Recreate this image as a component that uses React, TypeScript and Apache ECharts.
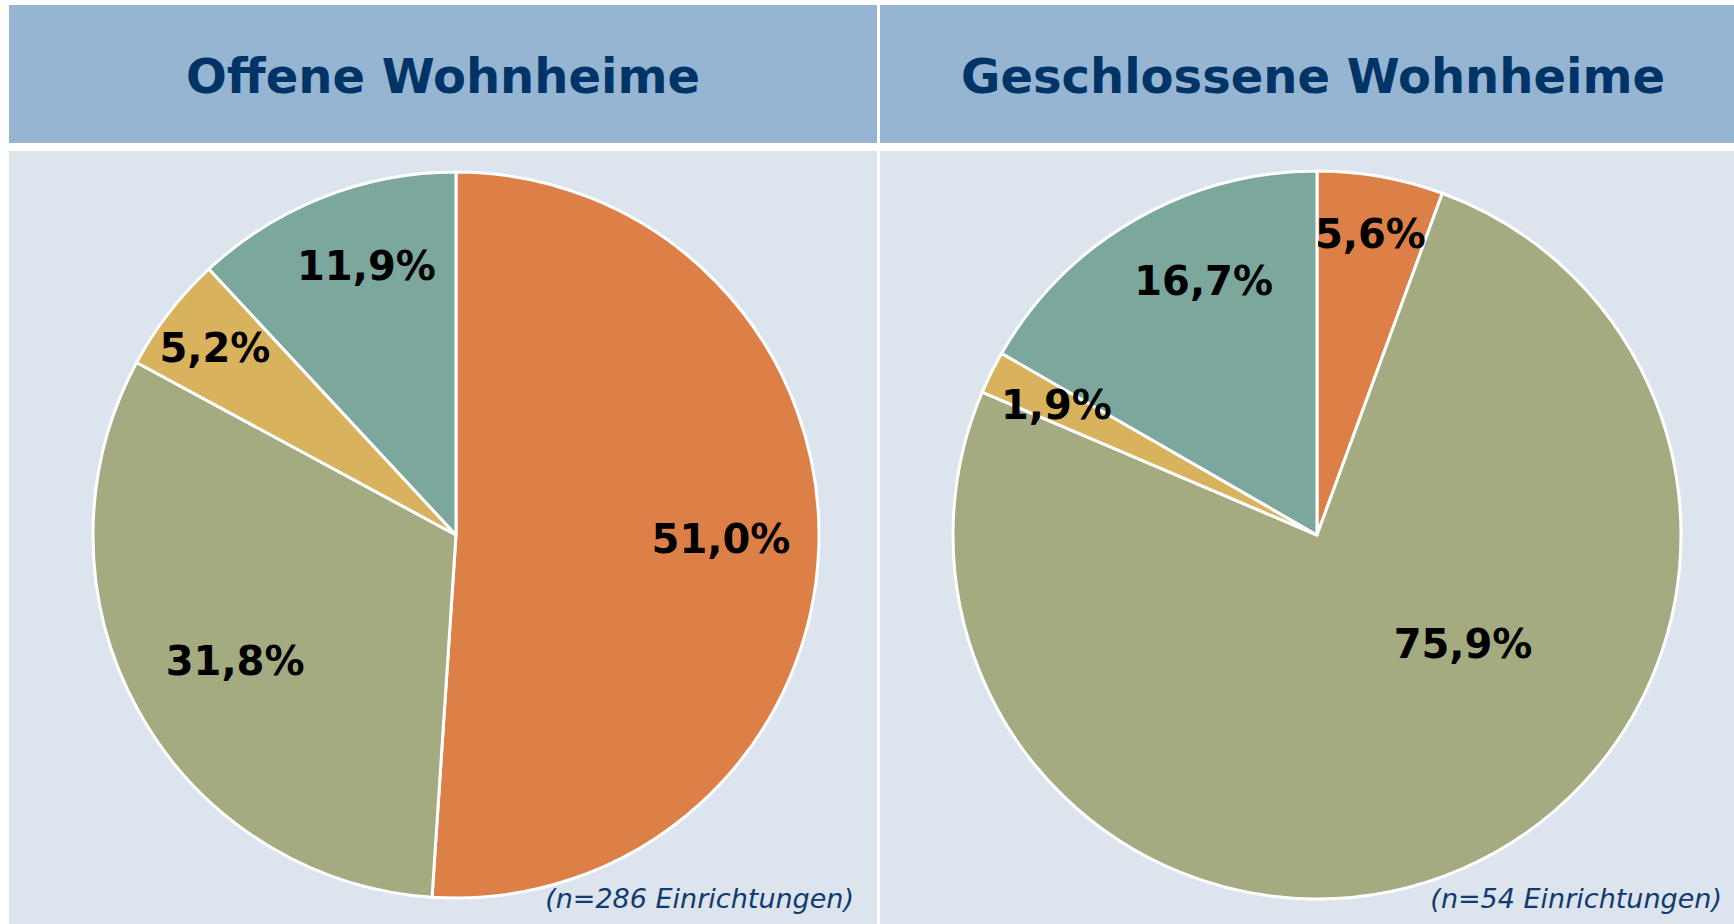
import React, { useEffect, useRef } from "react";
import * as echarts from "echarts";

const categories = ["Kategorie 1", "Kategorie 2", "Kategorie 3", "Kategorie 4"];
const openValues = [51.0, 31.8, 5.2, 11.9];
const closedValues = [5.6, 75.9, 1.9, 16.7];
const panelTitles = ["Offene Wohnheime", "Geschlossene Wohnheime"];
const sampleNotes = ["(n=286 Einrichtungen)", "(n=54 Einrichtungen)"];

// styles
const sliceColors = ["#DD8047", "#A5AB81", "#D8B25C", "#7BA79D"];
// label placement: fraction of radius and angular nudge (degrees, clockwise)
const labelRadiusOpen = [0.73, 0.7, 0.84, 0.78];
const labelShiftOpen = [-1, -0.7, 0, 3];
const labelRadiusClosed = [0.84, 0.5, 0.8, 0.765];
const labelShiftClosed = [0, -30, 0, 6];

const FONT = '"DejaVu Sans", Verdana, sans-serif';
const W = 1734;
const H = 924;

const panels = [
  {
    x: 9, w: 868, titleDx: 0, noteRight: 854,
    values: openValues, labelR: labelRadiusOpen, labelShift: labelShiftOpen,
    center: [456, 535], r: 363,
  },
  {
    x: 880, w: 854, titleDx: 6, noteRight: 1722,
    values: closedValues, labelR: labelRadiusClosed, labelShift: labelShiftClosed,
    center: [1317, 535], r: 364,
  },
];

const fmt = (v: number) => v.toFixed(1).replace(".", ",") + "%";

function buildSeries() {
  return panels.map((p, pi) => ({
    type: "pie",
    name: panelTitles[pi],
    center: p.center,
    radius: [0, p.r],
    startAngle: 90,
    clockwise: true,
    avoidLabelOverlap: false,
    silent: true,
    z: 2,
    label: {
      show: true,
      position: "inside",
      formatter: (d: any) => fmt(d.value),
      color: "#000000",
      fontFamily: FONT,
      fontWeight: "bold",
      fontSize: 40,
    },
    labelLine: { show: false },
    labelLayout: (params: any) => {
      const i = params.dataIndex;
      const rect = params.labelRect;
      const lx = rect.x + rect.width / 2;
      const ly = rect.y + rect.height / 2;
      const vx = lx - p.center[0];
      const vy = ly - p.center[1];
      const ang = Math.atan2(vx, -vy) + (p.labelShift[i] * Math.PI) / 180;
      const rr = p.labelR[i] * p.r;
      return {
        x: p.center[0] + rr * Math.sin(ang),
        y: p.center[1] - rr * Math.cos(ang),
        align: "center",
        verticalAlign: "middle",
      };
    },
    data: p.values.map((v, i) => ({
      name: categories[i],
      value: v,
      itemStyle: { color: sliceColors[i], borderColor: "#ffffff", borderWidth: 3 },
    })),
  }));
}

function buildGraphic() {
  const els: any[] = [];
  panels.forEach((p, pi) => {
    els.push({
      type: "rect",
      z: 0,
      shape: { x: p.x, y: 5, width: p.w, height: 138 },
      style: { fill: "#95B5D2" },
    });
    els.push({
      type: "rect",
      z: 0,
      shape: { x: p.x, y: 151, width: p.w, height: H - 151 },
      style: { fill: "#DCE4EE" },
    });
    els.push({
      type: "text",
      z: 10,
      x: p.x + p.w / 2 + p.titleDx,
      y: 76,
      style: {
        text: panelTitles[pi],
        fill: "#003366",
        fontFamily: FONT,
        fontWeight: "bold",
        fontSize: 48,
        align: "center",
        verticalAlign: "middle",
      },
    });
    els.push({
      type: "text",
      z: 10,
      x: p.noteRight,
      y: 898,
      style: {
        text: sampleNotes[pi],
        fill: "#123A6E",
        fontFamily: FONT,
        fontStyle: "italic",
        fontSize: 27,
        align: "right",
        verticalAlign: "middle",
      },
    });
  });
  return els;
}

export default function App() {
  const ref = useRef<HTMLDivElement>(null);
  useEffect(() => {
    if (!ref.current) return;
    const chart = echarts.init(ref.current, undefined, { renderer: "svg" });
    chart.setOption({
      animation: false,
      backgroundColor: "#ffffff",
      graphic: buildGraphic(),
      series: buildSeries(),
    });
    return () => chart.dispose();
  }, []);
  return (
    <div
      ref={ref}
      style={{ position: "absolute", left: 0, top: 0, width: W, height: H }}
    />
  );
}
